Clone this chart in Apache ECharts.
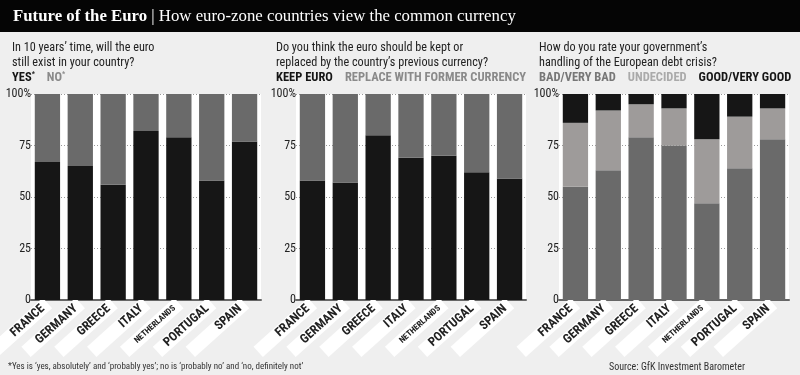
<!DOCTYPE html>
<html><head><meta charset="utf-8">
<script src="https://cdn.jsdelivr.net/npm/echarts@6/dist/echarts.min.js"></script>
<style>html,body{margin:0;padding:0;background:#efefef;}#c{width:800px;height:375px;}</style>
</head><body><div id="c"></div>
<script>
const countries = ['FRANCE','GERMANY','GREECE','ITALY','NETHERLANDS','PORTUGAL','SPAIN'];
const yesVals = [67,65,56,82,79,58,77];
const noVals = [33,35,44,18,21,42,23];
const keepVals = [58,57,80,69,70,62,59];
const replaceVals = [42,43,20,31,30,38,41];
const badVals = [55,63,79,75,47,64,78];
const undecidedVals = [31,29,16,18,31,25,15];
const goodVals = [14,8,5,7,22,11,7];
const yTickLabels = {0:'0',25:'25',50:'50',75:'75',100:'100%'};

const FONT = "'Liberation Sans Narrow','Roboto Condensed','Liberation Sans',sans-serif";
const BLACK = '#161616', DARK = '#6a6a6a', LIGHT = '#9e9b9a';

// measure label widths to give every white band the same length
const mctx = document.createElement('canvas').getContext('2d');
function textW(t, size){ mctx.font = 'bold ' + size + 'px ' + FONT; return mctx.measureText(t).width; }
const BAND = 73, PADR = 6;
const labelPad = {};
countries.forEach(c => {
  const w = textW(c, c === 'NETHERLANDS' ? 8.5 : 12.5);
  labelPad[c] = Math.max(2, BAND - PADR - w);
});

const chart = echarts.init(document.getElementById('c'));
const lefts = [31, 296, 559];
const grids = lefts.map(l => ({left:l, top:94, width:230, bottom:75, show:true, backgroundColor:'#fff', borderWidth:0, containLabel:false, outerBoundsMode:'none'}));
const xAxes = [0,1,2].map(i => ({
  type:'category', gridIndex:i, data:countries.map(c => ({
    value:c,
    textStyle:{padding:[1, PADR, 0, labelPad[c]], fontSize: c === 'NETHERLANDS' ? 8.5 : 12.5}
  })),
  axisTick:{show:false},
  axisLine:{lineStyle:{color:'#666', width:2}},
  axisLabel:{
    interval:0, rotate:42, margin:3, color:'#222', fontFamily:FONT, fontWeight:'bold', fontSize:12.5,
    backgroundColor:'#fff', lineHeight:13
  }
}));
const yAxes = [0,1,2].map(i => ({
  type:'value', gridIndex:i, min:0, max:100, interval:25,
  axisLine:{show:false}, axisTick:{show:false},
  axisLabel:{margin:0, color:'#222', fontFamily:FONT, fontSize:12, formatter: v => yTickLabels[v]},
  splitLine:{show:true, lineStyle:{color:'#999', type:[1,2], width:1}}
}));
function bar(name, data, idx, color){
  return {name, type:'bar', stack:'s'+idx, xAxisIndex:idx, yAxisIndex:idx, data, barCategoryGap:'23%', itemStyle:{color}, silent:true};
}
const series = [
  bar('YES', yesVals, 0, BLACK), bar('NO', noVals, 0, DARK),
  bar('KEEP EURO', keepVals, 1, BLACK), bar('REPLACE WITH FORMER CURRENCY', replaceVals, 1, DARK),
  bar('BAD/VERY BAD', badVals, 2, DARK), bar('UNDECIDED', undecidedVals, 2, LIGHT), bar('GOOD/VERY GOOD', goodVals, 2, BLACK)
];
function legend(left, items, star){
  return {left, top:71, icon:'none', itemWidth:0, itemHeight:0, itemGap:12, selectedMode:false, padding:0,
    data: items.map(([n,c]) => ({name:n, textStyle:{color:c}})),
    textStyle:{fontFamily:FONT, fontWeight:'bold', fontSize:12.5, padding:[0,0,0,-5],
      rich:{s:{fontSize:7, verticalAlign:'top', fontFamily:FONT, fontWeight:'bold', padding:[0,0,6,0]}}},
    formatter: star ? (n => n + '{s|*}') : (n => n)
  };
}
const qStyle = {fontFamily:FONT, fontSize:12.2, fill:'#222', lineHeight:15};
chart.setOption({
  backgroundColor:'#efefef',
  animation:false,
  grid:grids, xAxis:xAxes, yAxis:yAxes, series,
  legend:[
    legend(12, [['YES', '#161616'], ['NO', '#8a8a8a']], true),
    legend(276, [['KEEP EURO', '#161616'], ['REPLACE WITH FORMER CURRENCY', '#8a8a8a']], false),
    legend(539, [['BAD/VERY BAD', '#777'], ['UNDECIDED', '#aaa'], ['GOOD/VERY GOOD', '#161616']], false)
  ],
  graphic:[
    {type:'rect', shape:{x:0, y:0, width:800, height:32}, style:{fill:'#050505'}},
    {type:'text', x:13, y:17, style:{
      text:'{a|Future of the Euro}{b| | How euro-zone countries view the common currency}',
      verticalAlign:'middle',
      rich:{a:{fontFamily:"'Liberation Serif',serif", fontWeight:'bold', fontSize:16.8, fill:'#fff'},
            b:{fontFamily:"'Liberation Serif',serif", fontSize:16.8, fill:'#fff'}}}},
    {type:'text', x:12, y:40, style:Object.assign({text:"In 10 years’ time, will the euro\nstill exist in your country?"}, qStyle)},
    {type:'text', x:276, y:40, style:Object.assign({text:"Do you think the euro should be kept or\nreplaced by the country’s previous currency?"}, qStyle)},
    {type:'text', x:539, y:40, style:Object.assign({text:"How do you rate your government’s\nhandling of the European debt crisis?"}, qStyle)},
    {type:'text', x:8, y:367, z:100, style:{text:"*Yes is ‘yes, absolutely’ and ‘probably yes’; no is ‘probably no’ and ‘no, definitely not’", fontFamily:FONT, fontSize:9, fill:'#333', verticalAlign:'middle'}},
    {type:'text', x:609, y:367, z:100, style:{text:"Source: GfK Investment Barometer", fontFamily:FONT, fontSize:10, fill:'#333', verticalAlign:'middle'}}
  ]
});
</script></body></html>
